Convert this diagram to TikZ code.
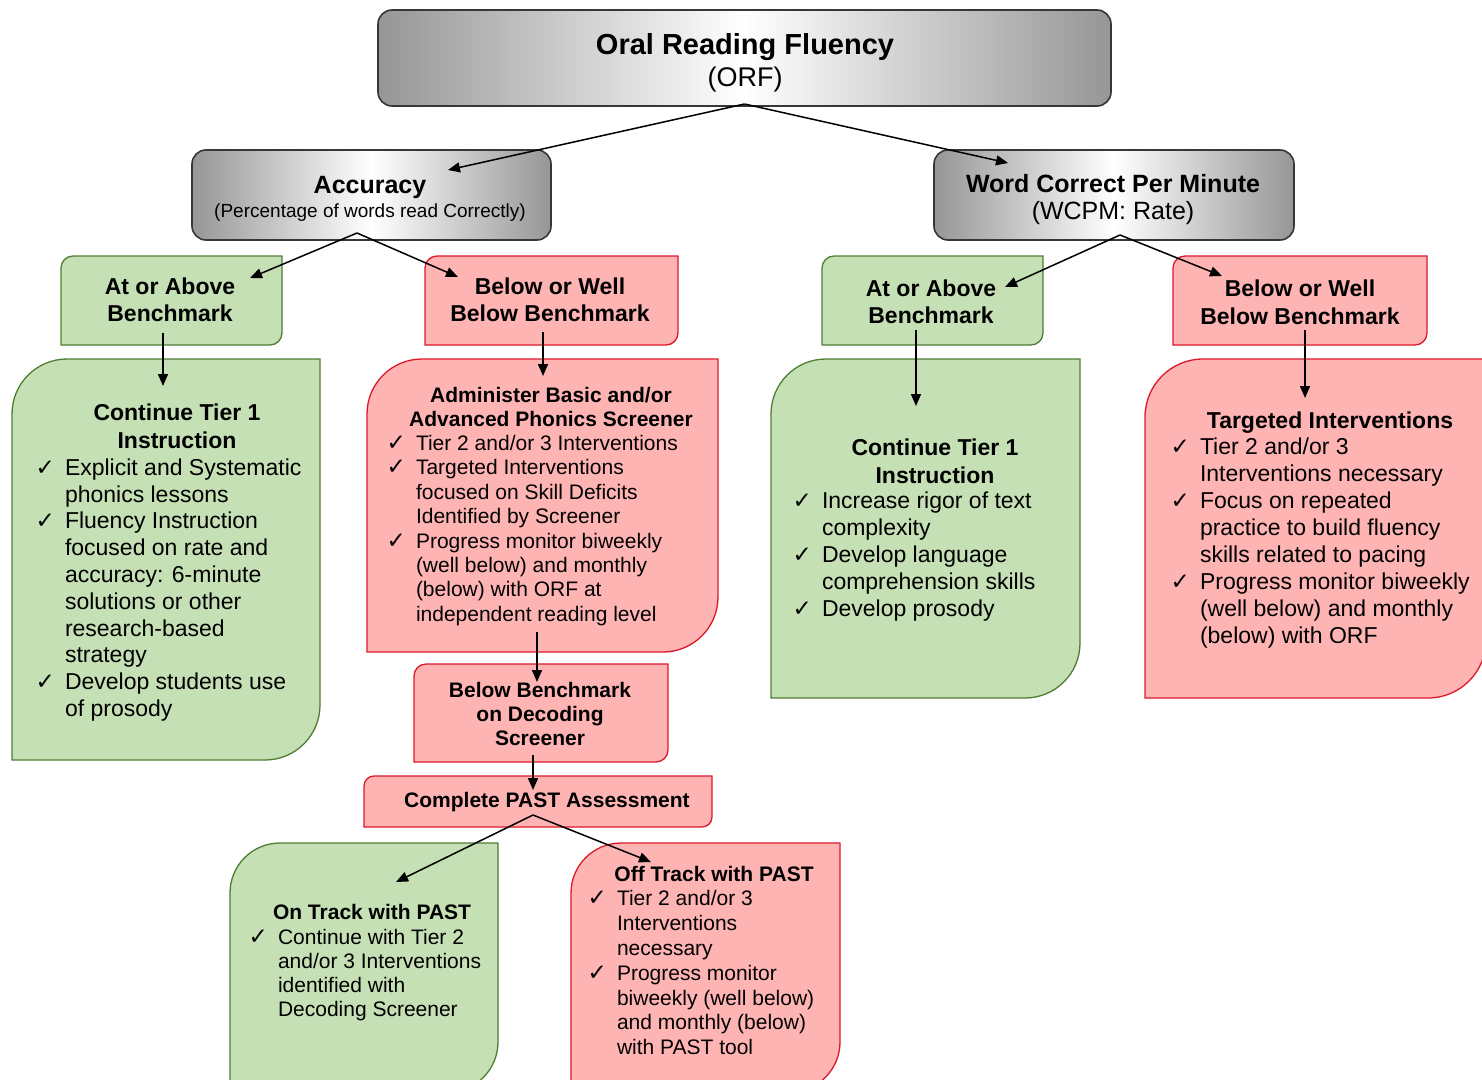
\documentclass[tikz,border=0pt]{standalone}
\usepackage{fontspec}
\setmainfont{Liberation Sans}
\newfontfamily\symf{DejaVu Sans}
\usetikzlibrary{arrows.meta}
\pgfdeclarelayer{bg}
\pgfsetlayers{bg,main}
\definecolor{gfill}{RGB}{197,224,180}
\definecolor{gline}{RGB}{80,125,50}
\definecolor{rfill}{RGB}{255,180,180}
\definecolor{rline}{RGB}{220,25,40}
\definecolor{gyline}{RGB}{55,55,55}
\definecolor{gyedge}{RGB}{150,150,150}
\newcommand\fs[2]{\fontsize{#1}{#2}\selectfont}
\newcommand\chk{\llap{{\fs{23}{18}\symf ✓}\hspace{10pt}}}
\newcommand\mkbox[5]{\node[boxnode, minimum width={#4-#2}, minimum height={#5-#3}] (#1) at ({(#2+#4)/2},{-(#3+#5)/2}) {};}
\newcommand\diag[3]{\path[#3] (#1.south west) -- ([yshift=-#2]#1.north west) arc[start angle=180,end angle=90,radius=#2] -- (#1.north east) -- ([yshift=#2]#1.south east) arc[start angle=0,end angle=-90,radius=#2] -- cycle;}
\tikzset{
  boxnode/.style={inner sep=0, outer sep=0, draw=none},
  greenbox/.style={fill=gfill, draw=gline, line width=1.3pt},
  redbox/.style={fill=rfill, draw=rline, line width=1.3pt},
  graybox/.style={draw=gyline, line width=1.6pt, left color=gyedge, right color=gyedge, middle color=white, rounded corners=14pt},
  conn/.style={line width=1.5pt, -{Triangle[length=12pt,width=10pt]}},
  tx/.style={inner sep=0, outer sep=0, text=black},
  lst/.style={tx, anchor=north west, align=left},
  ttl/.style={tx, anchor=north, align=center}
}
\begin{document}
\begin{tikzpicture}[x=1pt,y=1pt]
\useasboundingbox (0,0) rectangle (1482,-1079);
% box nodes
\mkbox{orf}{378}{10}{1111}{106}
\mkbox{acc}{192}{150}{551}{240}
\mkbox{wcpm}{934}{150}{1294}{240}
\mkbox{gA1}{61}{256}{282}{345}
\mkbox{rB1}{425}{256}{678}{345}
\mkbox{gA2}{822}{256}{1043}{345}
\mkbox{rB2}{1173}{256}{1427}{345}
\mkbox{gC1}{12}{359}{320}{760}
\mkbox{rAd}{367}{359}{718}{652}
\mkbox{gC2}{771}{359}{1080}{698}
\mkbox{rT}{1145}{359}{1486}{698}
\mkbox{rDec}{414}{664}{668}{762}
\mkbox{rPast}{364}{776}{712}{827}
\mkbox{gOn}{230}{843}{498}{1092}
\mkbox{rOff}{571}{843}{840}{1092}
\begin{pgfonlayer}{bg}
\fill[white] (0,0) rectangle (1482,-1079);
\path[graybox] (orf.south west) rectangle (orf.north east);
\path[graybox] (acc.south west) rectangle (acc.north east);
\path[graybox] (wcpm.south west) rectangle (wcpm.north east);
\diag{gA1}{12}{greenbox}
\diag{rB1}{12}{redbox}
\diag{gA2}{12}{greenbox}
\diag{rB2}{12}{redbox}
\diag{gC1}{55}{greenbox}
\diag{rAd}{55}{redbox}
\diag{gC2}{55}{greenbox}
\diag{rT}{58}{redbox}
\diag{rDec}{12}{redbox}
\diag{rPast}{10}{redbox}
\diag{gOn}{50}{greenbox}
\diag{rOff}{50}{redbox}
\end{pgfonlayer}
% texts
\node[tx, anchor=base, font=\bfseries\fs{29}{34}] (orf1) at (745,-54) {Oral Reading Fluency};
\node[tx, anchor=base, font=\fs{27}{32}] (orf2) at (745,-86) {(ORF)};
\node[tx, anchor=base, font=\bfseries\fs{25}{30}] (acc1) at (370,-193) {Accuracy};
\node[tx, anchor=base, font=\fs{19}{23}] (acc2) at (370,-217) {(Percentage of words read Correctly)};
\node[tx, anchor=base, font=\bfseries\fs{25}{30}] (wcpm1) at (1113,-192) {Word Correct Per Minute};
\node[tx, anchor=base, font=\fs{25}{30}] (wcpm2) at (1113,-219) {(WCPM: Rate)};
\node[ttl, font=\bfseries\fs{23}{27.5}] (gA1t) at (170,-274.8) {\strut At or Above\\Benchmark};
\node[ttl, font=\bfseries\fs{23}{27.5}] (rB1t) at (550,-274.8) {\strut Below or Well\\Below Benchmark};
\node[ttl, font=\bfseries\fs{23}{27.5}] (gA2t) at (931,-276.8) {\strut At or Above\\Benchmark};
\node[ttl, font=\bfseries\fs{23}{27.5}] (rB2t) at (1300,-277.5) {\strut Below or Well\\Below Benchmark};
\node[ttl, font=\bfseries\fs{23}{28}] (gC1t) at (177,-400.4) {\strut Continue Tier 1\\Instruction};
\node[lst, font=\fs{23}{26.8}] (gC1l) at (65,-456.5) {\strut\chk Explicit and Systematic\\
phonics lessons\\
\chk Fluency Instruction\\
focused on rate and\\
accuracy: 6-minute\\
solutions or other\\
research-based\\
strategy\\
\chk Develop students use\\
of prosody};
\node[ttl, font=\bfseries\fs{21}{24}] (rAdt) at (551,-385.8) {\strut Administer Basic and/or\\Advanced Phonics Screener};
\node[lst, font=\fs{21}{24.4}] (rAdl) at (416,-433.4) {\strut\chk Tier 2 and/or 3 Interventions\\
\chk Targeted Interventions\\
focused on Skill Deficits\\
Identified by Screener\\
\chk Progress monitor biweekly\\
(well below) and monthly\\
(below) with ORF at\\
independent reading level};
\node[ttl, font=\bfseries\fs{23}{28}] (gC2t) at (935,-435.7) {\strut Continue Tier 1\\Instruction};
\node[lst, font=\fs{23}{27}] (gC2l) at (822,-489.5) {\strut\chk Increase rigor of text\\
complexity\\
\chk Develop language\\
comprehension skills\\
\chk Develop prosody};
\node[tx, anchor=base, font=\bfseries\fs{23}{27}] (rTt) at (1330,-428.3) {Targeted Interventions};
\node[lst, font=\fs{23}{27}] (rTl) at (1200,-435.1) {\strut\chk Tier 2 and/or 3\\
Interventions necessary\\
\chk Focus on repeated\\
practice to build fluency\\
skills related to pacing\\
\chk Progress monitor biweekly\\
(well below) and monthly\\
(below) with ORF};
\node[ttl, font=\bfseries\fs{21}{24}] (rDect) at (540,-680.8) {\strut Below Benchmark\\on Decoding\\Screener};
\node[tx, anchor=base, font=\bfseries\fs{21}{24}] (rPastt) at (547,-807.6) {Complete PAST Assessment};
\node[tx, anchor=base, font=\bfseries\fs{21}{24}] (gOnt) at (372,-919.6) {On Track with PAST};
\node[lst, font=\fs{21}{24}] (gOnl) at (278,-927.2) {\strut\chk Continue with Tier 2\\
and/or 3 Interventions\\
identified with\\
Decoding Screener};
\node[tx, anchor=base, font=\bfseries\fs{21}{24}] (rOfft) at (714,-881.6) {Off Track with PAST};
\node[lst, font=\fs{21}{24.8}] (rOffl) at (617,-888.6) {\strut\chk Tier 2 and/or 3\\
Interventions\\
necessary\\
\chk Progress monitor\\
biweekly (well below)\\
and monthly (below)\\
with PAST tool};
% connectors
\draw[conn] ([yshift=2]orf.south) -- ([xshift=76.5,yshift=-20]acc.north);
\draw[conn] ([yshift=2]orf.south) -- ([xshift=-106,yshift=-13]wcpm.north);
\draw[conn] ([xshift=-14.5,yshift=7]acc.south) -- ([xshift=78.5,yshift=-22]gA1.north);
\draw[conn] ([xshift=-14.5,yshift=7]acc.south) -- ([xshift=-93.5,yshift=-21]rB1.north);
\draw[conn] ([xshift=6,yshift=5]wcpm.south) -- ([xshift=72.5,yshift=-31]gA2.north);
\draw[conn] ([xshift=6,yshift=5]wcpm.south) -- ([xshift=-78,yshift=-20]rB2.north);
\draw[conn] ([xshift=-8.5,yshift=12]gA1.south) -- ([xshift=-3,yshift=-27]gC1.north);
\draw[conn] ([xshift=-8.5,yshift=13]rB1.south) -- ([xshift=0.5,yshift=-17]rAd.north);
\draw[conn] ([xshift=-16.5,yshift=15]gA2.south) -- ([xshift=-9.5,yshift=-47]gC2.north);
\draw[conn] ([xshift=5,yshift=15]rB2.south) -- ([xshift=-10.5,yshift=-39]rT.north);
\draw[conn] ([xshift=-5.5,yshift=20]rAd.south) -- ([xshift=-4,yshift=-18]rDec.north);
\draw[conn] ([xshift=-8,yshift=7]rDec.south) -- ([xshift=-5,yshift=-14]rPast.north);
\draw[conn] ([xshift=-5,yshift=12]rPast.south) -- ([xshift=32,yshift=-39]gOn.north);
\draw[conn] ([xshift=-5,yshift=12]rPast.south) -- ([xshift=-54.5,yshift=-19]rOff.north);
\end{tikzpicture}
\end{document}
